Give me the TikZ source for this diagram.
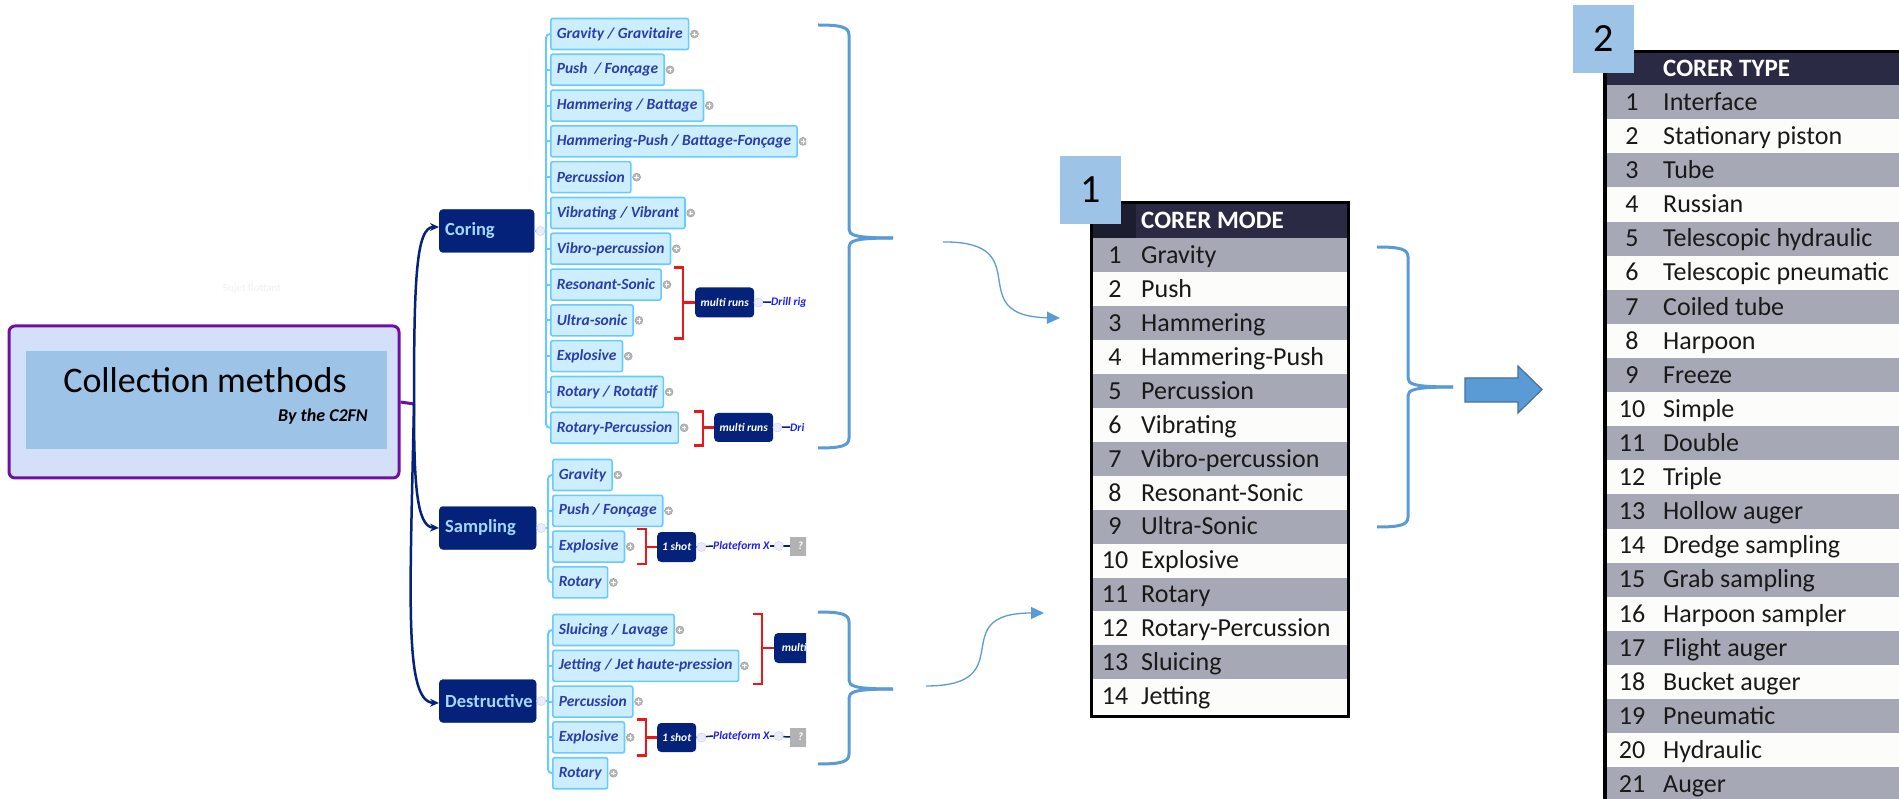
\documentclass[tikz,border=0pt]{standalone}
\usepackage{fontspec}
\setmainfont{Carlito}
\usetikzlibrary{arrows.meta,positioning}

\definecolor{purp}{RGB}{112,16,160}
\definecolor{lavender}{RGB}{212,224,250}
\definecolor{skyfill}{RGB}{157,195,230}
\definecolor{navy}{RGB}{4,34,122}
\definecolor{navytext}{RGB}{165,215,255}
\definecolor{itemfill}{RGB}{204,238,255}
\definecolor{itemline}{RGB}{102,204,255}
\definecolor{itemtext}{RGB}{44,60,172}
\definecolor{bracketred}{RGB}{236,24,24}
\definecolor{linkblue}{RGB}{30,30,250}
\definecolor{braceblue}{RGB}{91,155,213}
\definecolor{arrowedge}{RGB}{65,113,156}
\definecolor{headdark}{RGB}{42,42,68}
\definecolor{rowgray}{RGB}{166,169,181}
\definecolor{rowwhite}{RGB}{252,252,250}

% curly brace: end x, spine x, tip x, top y, middle y, bottom y
\newcommand{\bluebrace}[6]{%
  \draw[bluebr] (#1,#4) .. controls (#2-8,#4) and (#2,#4+2) .. (#2,#4+10)
    -- (#2,#5-9) .. controls (#2,#5-3) and (#2+5,#5) .. (#3,#5);
  \draw[bluebr] (#3,#5) .. controls (#2+5,#5) and (#2,#5+3) .. (#2,#5+9)
    -- (#2,#6-10) .. controls (#2,#6-2) and (#2-8,#6) .. (#1,#6);
}

\begin{document}
\begin{tikzpicture}[
    x=1pt, y=-1pt,
    mainbox/.style={rectangle, draw=purp, line width=3pt, rounded corners=6pt, fill=lavender, minimum width=390pt, minimum height=152pt, inner sep=0pt},
    titlebox/.style={rectangle, fill=skyfill, minimum width=361pt, minimum height=98pt, inner sep=0pt},
    topic/.style={rectangle, rounded corners=4pt, fill=navy, draw=navy!80!black, text=navytext, font=\fontsize{18.5}{20}\selectfont\bfseries, text width=83pt, align=left, inner xsep=6pt, minimum height=43pt, anchor=west},
    item/.style={rectangle, rounded corners=2pt, fill=itemfill, draw=itemline, line width=1.6pt, text=itemtext, font=\fontsize{15.5}{18}\selectfont\bfseries\itshape, minimum height=31pt, inner xsep=6pt, inner ysep=0pt, anchor=west},
    tag/.style={rectangle, rounded corners=4pt, fill=navy, text=white, font=\fontsize{11.5}{13}\selectfont\bfseries\itshape, minimum height=30pt, inner xsep=5pt, anchor=west},
    linktxt/.style={text=linkblue, font=\fontsize{11.5}{13}\selectfont\bfseries\itshape, inner sep=0pt, anchor=west},
    qbox/.style={rectangle, fill=gray!60, text=white, font=\fontsize{11}{12}\selectfont\bfseries\itshape, minimum height=19pt, minimum width=30pt, inner xsep=3pt, anchor=west},
    plusmark/.style={circle, fill=gray!55, draw=gray!75, line width=0.5pt, minimum size=8pt, inner sep=0pt,
      path picture={\draw[white, line width=0.8pt] ([xshift=-2.2pt]path picture bounding box.center) -- ([xshift=2.2pt]path picture bounding box.center) ([yshift=-2.2pt]path picture bounding box.center) -- ([yshift=2.2pt]path picture bounding box.center);}},
    minusmark/.style={circle, fill=blue!8, draw=gray!35, line width=0.5pt, minimum size=9pt, inner sep=0pt},
    twig/.style={draw=itemline, line width=2pt},
    redbracket/.style={draw=bracketred, line width=2.5pt},
    trunk/.style={draw=navy, line width=2.5pt, -{Stealth[length=9pt,width=8pt]}},
    linkline/.style={draw=navy, line width=1.5pt},
    bluebr/.style={draw=braceblue, line width=3pt},
    flow/.style={draw=braceblue, line width=1.3pt, -{Triangle[length=13pt,width=12pt]}},
    rowbox/.style={rectangle, inner sep=0pt, minimum height=34.2pt, anchor=north west},
    numtxt/.style={font=\fontsize{26}{28}\selectfont, text=black!90, inner sep=0pt, anchor=base},
    celltxt/.style={font=\fontsize{26}{28}\selectfont, text=black!90, inner sep=0pt, anchor=base west},
    headtxt/.style={font=\fontsize{25}{27}\selectfont\bfseries, text=white, inner sep=0pt, anchor=base west},
    numsquare/.style={rectangle, fill=skyfill, minimum width=61pt, minimum height=68pt, inner sep=0pt, font=\fontsize{40}{42}\selectfont}
]
\clip (0,0) rectangle (1899,799);

% mind map
\begin{scope}
\clip (0,0) rectangle (806,799);
\node[text=gray!12, font=\fontsize{11}{12}\selectfont] (flt) at (252,289) {Sujet flottant};

\node[mainbox] (main) at (204,402) {};
\node[titlebox] (ttl) at (206.5,400) {};
\node[font=\fontsize{36}{38}\selectfont, inner sep=0pt, anchor=base] (title) at (205,393) {Collection methods};
\node[font=\fontsize{18}{20}\selectfont\bfseries\itshape, inner sep=0pt, anchor=base east] (by) at (368,422) {By the C2FN};

\coordinate (jn) at (414,404);
\draw[purp, line width=3pt] (main.east) -- (jn);

\node[topic] (coring) at (439,231) {Coring};
\node[topic, text width=85pt] (sampling) at (439,528) {Sampling};
\node[topic, text width=85pt] (destr) at (439,701) {Destructive};

\draw[trunk] (jn) .. controls (414,280) and (416,227) .. ([yshift=4pt]coring.west);
\draw[trunk] (jn) .. controls (414,480) and (416,527) .. (sampling.west);
\draw[trunk] (jn) .. controls (410,600) and (404,702) .. ([yshift=-2pt]destr.west);

% coring branch
\foreach \t [count=\i] in {Gravity / Gravitaire, Push~ / Fonçage, Hammering / Battage,
    Hammering-Push / Battage-Fonçage, Percussion~, Vibrating / Vibrant, Vibro-percussion,
    Resonant-Sonic, Ultra-sonic, Explosive~, Rotary / Rotatif, Rotary-Percussion}
  \node[item] (cor\i) at (550,{34+(\i-1)*35.8}) {\t};
\foreach \i in {1,...,12} \node[plusmark] (pc\i) at ([xshift=5pt]cor\i.east) {};
\draw[twig, rounded corners=4pt] (cor1.west) -- ++(-4,0) |- (cor12.west);
\foreach \i in {2,...,11} \draw[twig] (cor\i.west) -- ++(-4,0);
\draw[twig] (coring.east) -- ([xshift=-4pt]cor1.west |- coring.east);
\node[minusmark] (mc) at ([xshift=6pt]coring.east) {};

\node[tag, minimum width=59pt] (mr1) at (695,302.5) {multi runs};
\draw[redbracket] (mr1.west) -- ++(-12,0) ++(-9,-35) -- ++(9,0) -- ++(0,71) -- ++(-9,0);
\node[linktxt] (dr1) at (771,302) {Drill rig};
\draw[linkline] (mr1.east) -- (dr1.west);
\node[minusmark] (mm1) at ([xshift=4pt]mr1.east) {};

\node[tag, minimum width=59pt, minimum height=29pt] (mr2) at (714,427.5) {multi runs};
\draw[redbracket] (mr2.west) -- ++(-11,0) ++(-9,-16) -- ++(9,0) -- ++(0,34) -- ++(-9,0);
\node[linktxt] (dr2) at (790,427) {Dri};
\draw[linkline] (mr2.east) -- (dr2.west);
\node[minusmark] (mm2) at ([xshift=4pt]mr2.east) {};

% sampling branch
\foreach \t [count=\i] in {Gravity, Push / Fonçage, Explosive, Rotary}
  \node[item] (smp\i) at (552,{475+(\i-1)*35.8}) {\t};
\foreach \i in {1,...,4} \node[plusmark] (ps\i) at ([xshift=5pt]smp\i.east) {};
\draw[twig, rounded corners=4pt] (smp1.west) -- ++(-4,0) |- (smp4.west);
\foreach \i in {2,3} \draw[twig] (smp\i.west) -- ++(-4,0);
\draw[twig] (sampling.east) -- ([xshift=-4pt]smp1.west |- sampling.east);
\node[minusmark] (ms) at ([xshift=5pt]sampling.east) {};

\node[tag, minimum width=39pt, inner xsep=4pt] (sh1) at (657,547) {1 shot};
\draw[redbracket] (sh1.west) -- ++(-11,0) ++(-9,-18) -- ++(9,0) -- ++(0,35) -- ++(-9,0);
\node[linktxt] (px1) at (713,546) {Plateform X};
\node[qbox] (qb1) at (790,546) {? B};
\draw[linkline] (sh1.east) -- (px1.west);
\draw[linkline] (px1.east) -- (qb1.west);
\node[minusmark] (mp1) at ([xshift=5pt]sh1.east) {};
\node[minusmark] (mq1) at ([xshift=9pt]px1.east) {};

% destructive branch
\foreach \t [count=\i] in {Sluicing / Lavage, Jetting / Jet haute-pression, Percussion~, Explosive, Rotary}
  \node[item] (dst\i) at (552,{630+(\i-1)*35.8}) {\t};
\foreach \i in {1,...,5} \node[plusmark] (pd\i) at ([xshift=5pt]dst\i.east) {};
\draw[twig, rounded corners=4pt] (dst1.west) -- ++(-4,0) |- (dst5.west);
\foreach \i in {2,3,4} \draw[twig] (dst\i.west) -- ++(-4,0);
\draw[twig] (destr.east) -- ([xshift=-4pt]dst1.west |- destr.east);
\node[minusmark] (md) at ([xshift=5pt]destr.east) {};

\node[tag, minimum width=40pt] (mr3) at (774,648) {multi};
\draw[redbracket] (mr3.west) -- ++(-12,0) ++(-9,-34) -- ++(9,0) -- ++(0,70) -- ++(-9,0);

\node[tag, minimum width=39pt, inner xsep=4pt, minimum height=29pt] (sh2) at (657,737.5) {1 shot};
\draw[redbracket] (sh2.west) -- ++(-11,0) ++(-9,-18) -- ++(9,0) -- ++(0,36) -- ++(-9,0);
\node[linktxt] (px2) at (713,736) {Plateform X};
\node[qbox] (qb2) at (790,737) {? B};
\draw[linkline] (sh2.east) -- (px2.west);
\draw[linkline] (px2.east) -- (qb2.west);
\node[minusmark] (mp2) at ([xshift=5pt]sh2.east) {};
\node[minusmark] (mq2) at ([xshift=9pt]px2.east) {};
\end{scope}

% braces and flow arrows
\bluebrace{818}{849}{893}{25}{238}{448}
\bluebrace{818}{849}{893}{612}{689}{764}
\bluebrace{1377}{1408}{1453}{247}{387}{527}

\coordinate (fa) at (943,242);
\coordinate (ta) at (1060,318);
\draw[flow] (fa) .. controls (1040,241) and (960,316) .. (ta);
\coordinate (fb) at (926,686);
\coordinate (tb) at (1044,613);
\draw[flow] (fb) .. controls (1023,686) and (943,613) .. (tb);

\draw[fill=braceblue, draw=arrowedge, line width=1.2pt] (1465,378) -- (1518,378) -- (1518,366) -- (1542,389.5) -- (1518,413) -- (1518,402) -- (1465,402) -- cycle;

% table 1 : corer mode
\node[rowbox, fill=headdark, minimum width=256pt, minimum height=36pt] (head1) at (1092,202) {};
\fill[headdark!70!black] (1092,202) rectangle (1136,238);
\node[headtxt] (h1) at (1141,229) {CORER MODE};
\foreach \name [count=\i] in {Gravity, Push, Hammering, Hammering-Push, Percussion, Vibrating,
    Vibro-percussion, Resonant-Sonic, Ultra-Sonic, Explosive, Rotary, Rotary-Percussion, Sluicing, Jetting} {
  \pgfmathsetmacro\ytop{238+(\i-1)*33.93}
  \ifodd\i \colorlet{rowcol}{rowgray}\else\colorlet{rowcol}{rowwhite}\fi
  \node[rowbox, fill=rowcol, minimum width=254pt] (m\i) at (1093,\ytop) {};
  \node[numtxt] (mn\i) at (1115,\ytop+25.5) {\i};
  \node[celltxt] (mt\i) at (1141,\ytop+25.5) {\name};
}
\node[draw=black, line width=3pt, minimum width=257pt, minimum height=513pt, inner sep=0pt] (tab1) at (1220,459.5) {};
\node[numsquare] (sq1) at (1090.5,190) {1};

% table 2 : corer type
\node[rowbox, fill=headdark, minimum width=300pt, minimum height=36pt] (head2) at (1605,50) {};
\node[headtxt] (h2) at (1663,77) {CORER TYPE};
\foreach \name [count=\i] in {Interface, Stationary piston, Tube, Russian, Telescopic hydraulic,
    Telescopic pneumatic, Coiled tube, Harpoon, Freeze, Simple, Double, Triple, Hollow auger,
    Dredge sampling, Grab sampling, Harpoon sampler, Flight auger, Bucket auger, Pneumatic, Hydraulic, Auger} {
  \pgfmathsetmacro\ytop{85+(\i-1)*34.1}
  \ifodd\i \colorlet{rowcol}{rowgray}\else\colorlet{rowcol}{rowwhite}\fi
  \node[rowbox, fill=rowcol, minimum width=300pt] (t\i) at (1606,\ytop) {};
  \node[numtxt] (tn\i) at (1632,\ytop+25.5) {\i};
  \node[celltxt] (tt\i) at (1663,\ytop+25.5) {\name};
}
\draw[black, line width=3.5pt] (1605,900) -- (1605,51.5) -- (1950,51.5);
\node[numsquare] (sq2) at (1603.5,39) {2};
\end{tikzpicture}
\end{document}
